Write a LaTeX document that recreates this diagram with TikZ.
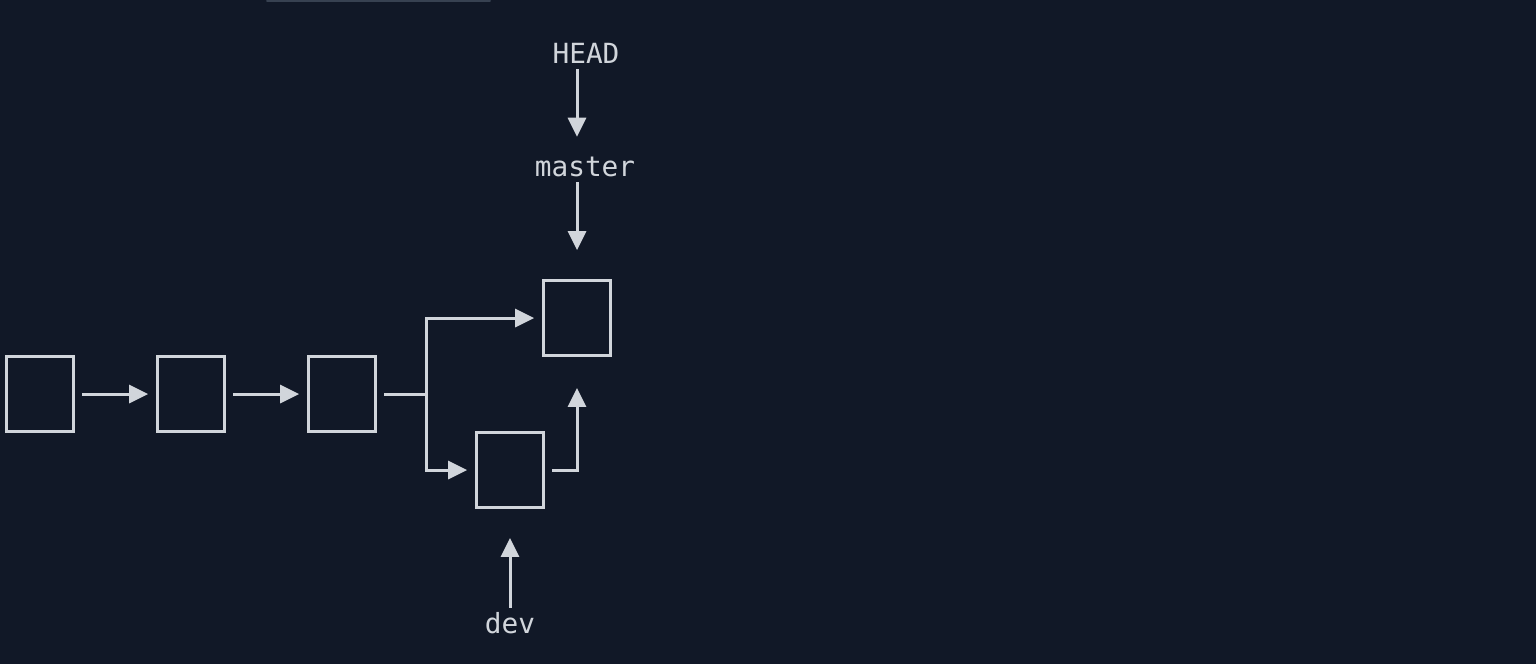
\documentclass[tikz,border=0pt]{standalone}
\usepackage{fontspec}
\setmonofont{DejaVu Sans Mono}
\usepackage{xcolor}
\usepackage{tikz}
\usetikzlibrary{arrows.meta,positioning}

\definecolor{bgdark}{HTML}{111827}
\definecolor{inkgray}{HTML}{D1D5DB}
\definecolor{rulegray}{HTML}{374151}

\tikzset{
  commit/.style={draw=inkgray, line width=0.065cm, minimum width=1.33cm, minimum height=1.49cm, inner sep=0pt},
  lbl/.style={text=inkgray, inner sep=0pt, font=\ttfamily\fontsize{15.8}{18}\selectfont},
  arr/.style={draw=inkgray, line width=0.06cm, -{Triangle[length=0.38cm,width=0.36cm]}},
  wire/.style={draw=inkgray, line width=0.06cm}
}

\begin{document}
\begin{tikzpicture}[x=0.02cm, y=-0.02cm]
% background and frame
\fill[bgdark] (0,0) rectangle (1536,664);
\useasboundingbox (0,0) rectangle (1536,664);
\draw[rulegray, line width=0.04cm, line cap=round] (267,1) -- (490,1);

% commits
\node[commit] (c1) at (40,394) {};
\node[commit] (c2) at (191,394) {};
\node[commit] (c3) at (342,394) {};
\node[commit] (c4) at (577,318) {};
\node[commit] (c5) at (510,470) {};

% history
\draw[arr, shorten <=0.15cm, shorten >=0.16cm] (c1) -- (c2);
\draw[arr, shorten <=0.15cm, shorten >=0.16cm] (c2) -- (c3);

% branch point
\coordinate (fork) at (426,394);
\draw[wire, shorten <=0.15cm] (c3.east) -- (fork);
\draw[arr, shorten >=0.16cm] (fork) |- (c4.west);
\draw[arr, shorten >=0.16cm] (fork) |- (c5.west);
\draw[arr, shorten <=0.15cm, shorten >=0.62cm] (c5.east) -| (c4.south);

% refs
\node[lbl] (head) at (586,53) {HEAD};
\node[lbl] (master) at (585,167) {master};
\node[lbl] (dev) at (510,623) {dev};
\draw[arr, shorten <=0.12cm, shorten >=0.4cm] (head.south -| c4.north) -- (master.north -| c4.north);
\draw[arr, shorten <=0.1cm, shorten >=0.58cm] (master.south -| c4.north) -- (c4.north);
\draw[arr, shorten <=0.08cm, shorten >=0.58cm] (dev.north) -- (c5.south);
\end{tikzpicture}
\end{document}
